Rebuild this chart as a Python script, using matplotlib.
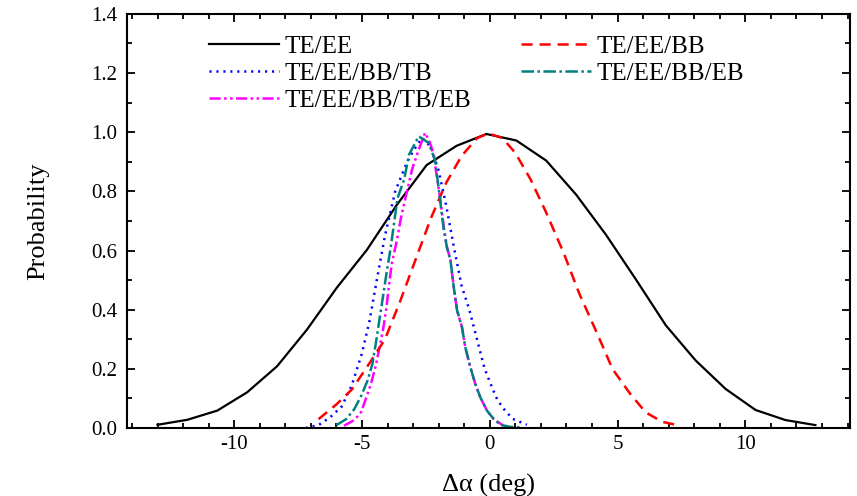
import matplotlib
matplotlib.use("Agg")
import matplotlib.pyplot as plt
from matplotlib.ticker import MultipleLocator, FormatStrFormatter

plt.rcParams['font.family'] = ['Liberation Serif', 'DejaVu Serif']
plt.rcParams['axes.unicode_minus'] = False
plt.rcParams['lines.scale_dashes'] = False

# TE/EE
x_teee = [-13.0, -11.83, -10.66, -9.49, -8.32, -7.15, -5.98, -4.81, -3.64, -2.47,
          -1.30, -0.13, 1.04, 2.21, 3.38, 4.55, 5.72, 6.89, 8.06, 9.23, 10.40,
          11.57, 12.74]
y_teee = [0.011, 0.028, 0.059, 0.121, 0.209, 0.333, 0.475, 0.602, 0.754, 0.889,
          0.954, 0.994, 0.972, 0.904, 0.789, 0.653, 0.502, 0.347, 0.228, 0.132,
          0.061, 0.027, 0.010]

# TE/EE/BB
x_bb = [-6.7, -6.0, -5.4, -4.7, -4.1, -3.5, -2.9, -2.3, -1.7, -1.1, -0.5, -0.05,
        0.5, 1.0, 1.6, 2.2, 2.9, 3.5, 4.2, 4.8, 5.5, 6.1, 6.75, 7.33]
y_bb = [0.03, 0.08, 0.13, 0.22, 0.30, 0.43, 0.57, 0.71, 0.83, 0.92, 0.98, 0.996,
        0.98, 0.93, 0.84, 0.73, 0.59, 0.455, 0.32, 0.20, 0.115, 0.053, 0.021, 0.01]

# TE/EE/BB/TB
x_tb = [-7.2, -6.7, -6.25, -5.8, -5.4, -5.0, -4.7, -4.4, -4.1, -3.7, -3.25, -3.0,
        -2.65, -2.3, -2.0, -1.7, -1.4, -1.1, -0.8, -0.5, -0.2, 0.1, 0.3, 0.6, 0.9,
        1.45]
y_tb = [0.0, 0.01, 0.036, 0.072, 0.144, 0.253, 0.364, 0.51, 0.65, 0.80, 0.896,
        0.936, 0.981, 0.95, 0.87, 0.75, 0.61, 0.48, 0.40, 0.30, 0.20, 0.135, 0.095,
        0.059, 0.031, 0.011]

# TE/EE/BB/EB
x_eb = [-6.0, -5.62, -5.30, -5.04, -4.78, -4.59, -4.46, -4.31, -4.18, -4.04, -3.88,
        -3.61, -3.35, -3.16, -2.78, -2.39, -2.13, -1.93, -1.80, -1.67, -1.54, -1.41,
        -1.28, -1.09, -0.96, -0.76, -0.57, -0.37, -0.11, 0.15, 0.41, 0.8, 1.2]
y_eb = [0.010, 0.030, 0.064, 0.107, 0.161, 0.217, 0.285, 0.370, 0.443, 0.523, 0.608,
        0.777, 0.840, 0.924, 0.986, 0.964, 0.902, 0.76, 0.67, 0.608, 0.568, 0.477,
        0.398, 0.342, 0.274, 0.206, 0.150, 0.104, 0.059, 0.031, 0.011, 0.004, 0.002]

# TE/EE/BB/TB/EB
x_all = [-5.7, -5.3, -5.04, -4.85, -4.65, -4.46, -4.31, -4.18, -4.04, -3.92, -3.82,
         -3.63, -3.49, -3.24, -3.04, -2.78, -2.53, -2.34, -2.21, -1.93, -1.80, -1.67,
         -1.54, -1.41, -1.28, -1.09, -0.96, -0.76, -0.57, -0.37, -0.11, 0.15, 0.53]
y_all = [0.008, 0.027, 0.053, 0.098, 0.149, 0.211, 0.274, 0.330, 0.409, 0.500, 0.562,
         0.636, 0.704, 0.800, 0.874, 0.941, 0.998, 0.964, 0.930, 0.77, 0.68, 0.61,
         0.568, 0.477, 0.398, 0.342, 0.274, 0.206, 0.150, 0.104, 0.059, 0.031, 0.008]

fig = plt.figure(figsize=(8.57, 4.96), dpi=100)
ax = fig.add_axes([0.148, 0.137, 0.844, 0.835])

ax.plot(x_teee, y_teee, color='black', lw=1.6, label='TE/EE')
ax.plot(x_tb, y_tb, color='blue', lw=1.8, dashes=(1.5, 3.5), label='TE/EE/BB/TB')
ax.plot(x_all, y_all, color='magenta', lw=1.8, dashes=(8, 2.5, 1.8, 2.5, 1.8, 2.5),
        label='TE/EE/BB/TB/EB')
ax.plot(x_bb, y_bb, color='red', lw=1.8, dashes=(8, 5), label='TE/EE/BB')
ax.plot(x_eb, y_eb, color='#008080', lw=1.8, dashes=(9, 2.5, 1.8, 2.5),
        label='TE/EE/BB/EB')

ax.set_xlim(-14.2, 14.1)
ax.set_ylim(0, 1.4)
ax.xaxis.set_major_locator(MultipleLocator(5))
ax.xaxis.set_minor_locator(MultipleLocator(1))
ax.yaxis.set_major_locator(MultipleLocator(0.2))
ax.yaxis.set_minor_locator(MultipleLocator(0.1))
ax.yaxis.set_major_formatter(FormatStrFormatter('%.1f'))
ax.tick_params(which='both', direction='in', top=True, right=True, width=1.3,
               labelsize=15)
ax.tick_params(which='major', length=6)
ax.tick_params(which='minor', length=3.5)
ax.tick_params(axis='y', pad=7)
ax.tick_params(axis='x', pad=5)
for s in ax.spines.values():
    s.set_linewidth(1.5)

ax.set_xlabel('Δα (deg)', fontsize=19, labelpad=14)
ax.set_ylabel('Probability', fontsize=19, labelpad=30)

ax.legend(ncol=2, frameon=False, fontsize=18, loc='upper left',
          bbox_to_anchor=(0.082, 1.003), handlelength=2.8, columnspacing=2.0,
          labelspacing=0.18, handletextpad=0.22)

fig.savefig('out.png', dpi=100)
